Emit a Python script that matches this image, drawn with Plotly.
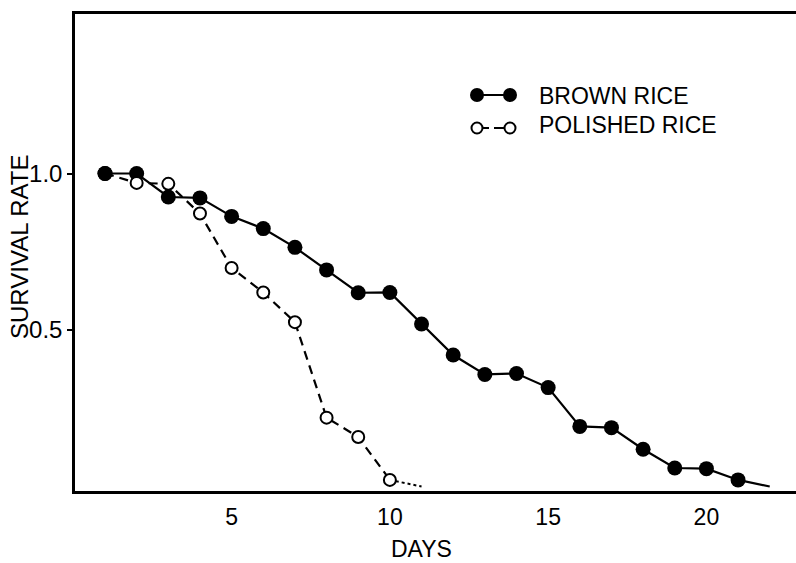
import plotly.graph_objects as go

# ---- data ----
days = list(range(1, 23))
brown_rice = [1.0, 1.0, 0.925, 0.922, 0.863, 0.824, 0.764, 0.692, 0.619, 0.620,
              0.519, 0.420, 0.358, 0.361, 0.316, 0.192, 0.188, 0.119, 0.059, 0.057,
              0.021, 0.0]
polished_days = list(range(1, 12))
polished_rice = [1.0, 0.970, 0.967, 0.872, 0.698, 0.620, 0.525, 0.220, 0.158, 0.021, 0.0]
x_ticks = [5, 10, 15, 20]
y_ticks = [0.5, 1.0]
y_tick_labels = ["0.5", "1.0"]

FONT = "Liberation Sans"
W, H = 796, 563
L, R, T, B = 75, 0, 14, 72
PW, PH = W - L - R, H - T - B

def px(x):
    return (x - L) / PW

def py(y):
    return (H - B - y) / PH

fig = go.Figure()

# brown rice: solid line, filled markers (last point has no marker)
fig.add_trace(go.Scatter(
    x=days, y=brown_rice, mode="lines", line=dict(color="black", width=2.2),
    showlegend=False, hoverinfo="skip"))
fig.add_trace(go.Scatter(
    x=days[:-1], y=brown_rice[:-1], mode="markers",
    marker=dict(color="black", size=15, line=dict(width=0)),
    showlegend=False))

# polished rice: dashed line, last segment dotted, open markers
fig.add_trace(go.Scatter(
    x=polished_days[:-1], y=polished_rice[:-1], mode="lines",
    line=dict(color="black", width=2.2, dash="9px,6px"),
    showlegend=False, hoverinfo="skip"))
fig.add_trace(go.Scatter(
    x=polished_days[-2:], y=polished_rice[-2:], mode="lines",
    line=dict(color="black", width=2, dash="3px,3px"),
    showlegend=False, hoverinfo="skip"))
fig.add_trace(go.Scatter(
    x=polished_days[:-1], y=polished_rice[:-1], mode="markers",
    marker=dict(color="white", size=12, line=dict(color="black", width=2)),
    showlegend=False))

# brown on top of polished at day 1
fig.add_trace(go.Scatter(
    x=days[:1], y=brown_rice[:1], mode="markers",
    marker=dict(color="black", size=15, line=dict(width=0)),
    showlegend=False))

shapes = []
# legend glyphs
ly1, ly2 = 95, 128
shapes.append(dict(type="line", xref="paper", yref="paper",
                   x0=px(477), x1=px(510), y0=py(ly1), y1=py(ly1),
                   line=dict(color="black", width=2.2)))
for cx in (477, 510):
    shapes.append(dict(type="circle", xref="paper", yref="paper",
                       x0=px(cx - 7), x1=px(cx + 7), y0=py(ly1 + 7), y1=py(ly1 - 7),
                       fillcolor="black", line=dict(color="black", width=0)))
shapes.append(dict(type="line", xref="paper", yref="paper",
                   x0=px(482), x1=px(489), y0=py(ly2), y1=py(ly2),
                   line=dict(color="black", width=2)))
shapes.append(dict(type="line", xref="paper", yref="paper",
                   x0=px(494), x1=px(505), y0=py(ly2), y1=py(ly2),
                   line=dict(color="black", width=2)))
for cx in (477, 510):
    shapes.append(dict(type="circle", xref="paper", yref="paper",
                       x0=px(cx - 5.5), x1=px(cx + 5.5), y0=py(ly2 + 5.5), y1=py(ly2 - 5.5),
                       fillcolor="white", line=dict(color="black", width=2)))

annotations = [
    dict(text="BROWN RICE", xref="paper", yref="paper", x=px(537), y=py(96),
         xanchor="left", yanchor="middle", showarrow=False,
         font=dict(family=FONT, size=23, color="black")),
    dict(text="POLISHED RICE", xref="paper", yref="paper", x=px(537), y=py(125),
         xanchor="left", yanchor="middle", showarrow=False,
         font=dict(family=FONT, size=23, color="black")),
    dict(text="SURVIVAL RATE", xref="paper", yref="paper", x=px(20), y=py(247),
         xanchor="center", yanchor="middle", textangle=-90, showarrow=False,
         font=dict(family=FONT, size=24, color="black")),
    dict(text="DAYS", xref="paper", yref="paper", x=px(421), y=py(549),
         xanchor="center", yanchor="middle", showarrow=False,
         font=dict(family=FONT, size=23, color="black")),
]

fig.update_layout(
    width=W, height=H,
    margin=dict(l=L, r=R, t=T, b=B, pad=0),
    paper_bgcolor="white", plot_bgcolor="white",
    shapes=shapes, annotations=annotations,
    font=dict(family=FONT, size=23, color="black"),
    xaxis=dict(range=[0.052, 22.83], tickvals=x_ticks, ticktext=[str(v) for v in x_ticks],
               showgrid=False, zeroline=False, showline=True, linecolor="black",
               linewidth=2.5, mirror=True, ticks="outside", ticklen=4,
               tickcolor="rgba(0,0,0,0)", tickfont=dict(family=FONT, size=23)),
    yaxis=dict(range=[-0.0144, 1.5096], tickvals=y_ticks, ticktext=y_tick_labels,
               showgrid=False, zeroline=False, showline=True, linecolor="black",
               linewidth=2.5, mirror=False, ticks="outside", ticklen=5, tickwidth=2,
               tickcolor="black", tickfont=dict(family=FONT, size=24)),
)

fig.write_html("out.html")
